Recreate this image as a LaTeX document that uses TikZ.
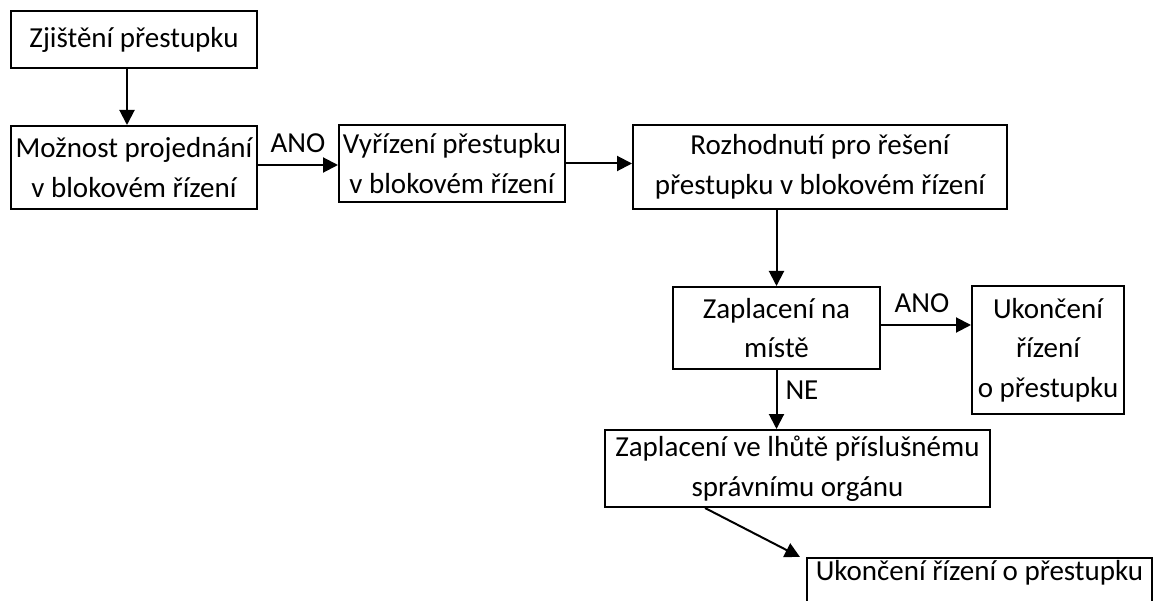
\documentclass[tikz,border=0pt]{standalone}
\usepackage{fontspec}
\setmainfont{Carlito}
\usetikzlibrary{arrows.meta,calc}
\begin{document}
\begin{tikzpicture}[x=1pt,y=-1pt,
  box/.style={draw=black,line width=2pt,rectangle,inner sep=0pt,align=center,
    font=\fontsize{29}{39.5}\selectfont},
  conn/.style={line width=2pt,-{Triangle[length=15pt,width=15pt]}},
  lbl/.style={font=\fontsize{29}{39.5}\selectfont,inner sep=2pt}]
\useasboundingbox (0,0) rectangle (1159,601);
\fill[white] (0,0) rectangle (1159,601);
\clip (0,0) rectangle (1159,601);
\node[box,minimum width=246pt,minimum height=57pt] (b1) at (134,39.5) {Zjištění přestupku};
\node[box,minimum width=246pt,minimum height=83pt] (b2) at (134,167.5) {Možnost projednání\\v blokovém řízení};
\node[box,minimum width=226pt,minimum height=77pt] (b3) at (452,163.5) {Vyřízení přestupku\\v blokovém řízení};
\node[box,minimum width=374pt,minimum height=84pt] (b4) at (820,167) {Rozhodnutí pro řešení\\přestupku v blokovém řízení};
\node[box,minimum width=207pt,minimum height=82pt] (b5) at (776.5,328) {Zaplacení na\\místě};
\node[box,minimum width=152pt,minimum height=128pt] (b6) at (1048,350) {Ukončení\\řízení\\o přestupku};
\node[box,minimum width=385pt,minimum height=77pt] (b7) at (797.5,468.5) {Zaplacení ve lhůtě příslušnému\\správnímu orgánu};
\node[box,minimum width=345pt,minimum height=77pt] (b8) at (979.5,596.5) {Ukončení řízení o přestupku\\\strut};
\draw[conn] ([xshift=-7pt]b1.south) -- ([xshift=-7pt]b2.north);
\coordinate (a23) at ([yshift=2.5pt]b2.east);
\draw[conn] (a23) -- node[lbl,above,yshift=9pt] {ANO} (a23 -| b3.west);
\draw[conn] (b3.east) -- (b3.east -| b4.west);
\draw[conn] (b5.north |- b4.south) -- (b5.north);
\coordinate (a56) at ([yshift=3pt]b5.east);
\draw[conn] (a56) -- node[lbl,above,yshift=9pt,xshift=-4pt] {ANO} (a56 -| b6.west);
\draw[conn] (b5.south) -- node[lbl,right,pos=0.35,xshift=6pt] {NE} (b5.south |- b7.north);
\draw[conn] ([xshift=-92.5pt]b7.south) -- ([xshift=-6pt]b8.north west);
\end{tikzpicture}
\end{document}
